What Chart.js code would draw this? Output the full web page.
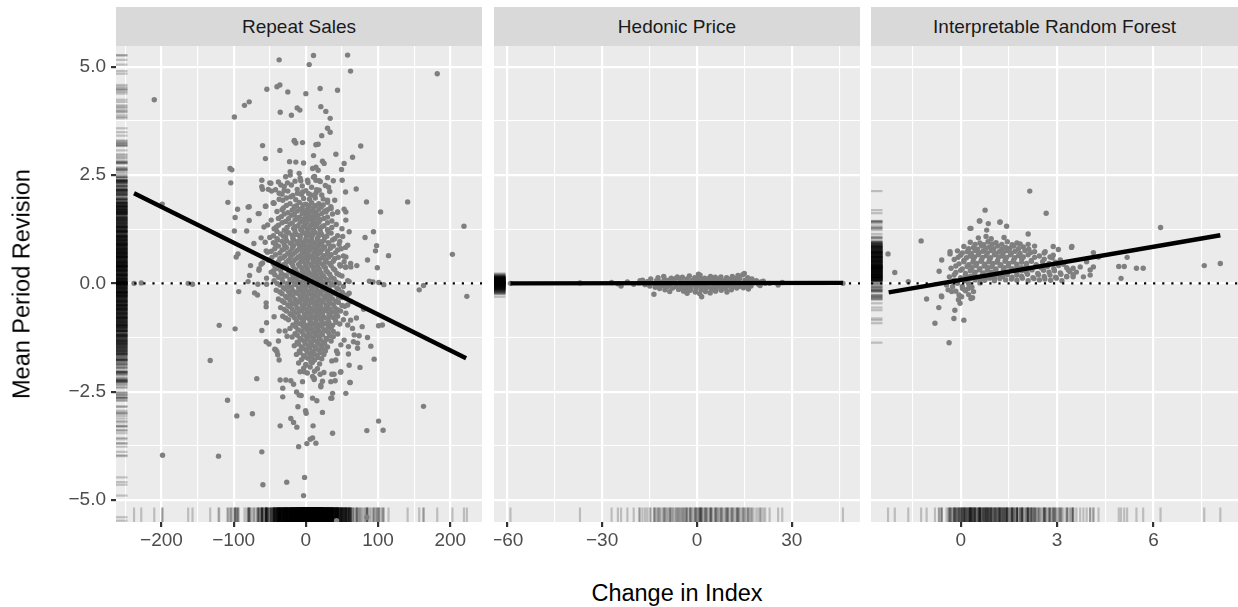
<!DOCTYPE html>
<html lang="en">
<head>
<meta charset="UTF-8">
<title>Mean Period Revision vs Change in Index</title>
<script src="https://cdn.jsdelivr.net/npm/chart.js"></script>
<style>
  body { margin: 0; background: #fff; font-family: "Liberation Sans", Arial, sans-serif; }
  #wrap { position: relative; width: 1238px; height: 607px; overflow: hidden; }
  .strip { position: absolute; top: 7px; height: 39px; line-height: 39px; background: #d9d9d9;
           color: #1a1a1a; font-size: 19px; text-align: center; }
  canvas { position: absolute; top: 46px; }
  .ytitle { position: absolute; left: 22px; top: 284px; transform: translate(-50%, -50%) rotate(-90deg);
            font-size: 23.5px; white-space: nowrap; color: #000; }
  .xtitle { position: absolute; left: 677px; top: 593px; transform: translate(-50%, -50%);
            font-size: 23.5px; white-space: nowrap; color: #000; }
</style>
</head>
<body>
<div id="wrap">
  <div class="strip" style="left:116px;width:366px">Repeat Sales</div>
  <div class="strip" style="left:494px;width:366px">Hedonic Price</div>
  <div class="strip" style="left:871px;width:367px">Interpretable Random Forest</div>
  <canvas id="p1" width="482" height="514" style="left:0px"></canvas>
  <canvas id="p2" width="366" height="514" style="left:494px"></canvas>
  <canvas id="p3" width="367" height="514" style="left:871px"></canvas>
  <div class="ytitle">Mean Period Revision</div>
  <div class="xtitle">Change in Index</div>
</div>

<script>
// ---- data: [change in index, mean period revision] ----
const repeatSales = [
  [-238,0.0],[-228,0.01],[-210,4.24],[-199,1.83],[-163,0.0],[-157,-0.02],[-99,3.84],[-85,4.11],[-78.5,4.19],
  [-54,4.48],[-40,4.54],[-36,4.58],[-37,5.16],[-25,4.42],[-35.5,3.95],[-20,3.88],[-12,4.05],[-8.3,4.0],
  [0,4.38],[4.6,5.05],[10.6,5.26],[19.8,4.5],[20.8,4.08],[27.7,3.97],[33.7,3.81],[43.9,4.46],[57.8,5.27],
  [61.9,4.9],[182,4.84],[30,3.58],[33.7,3.49],[22,3.41],[13.9,3.2],[17,3.21],[-4.6,3.25],[-16,3.28],
  [-13.9,3.24],[-60,3.18],[-36,3.07],[-56,2.88],[-22.6,2.81],[-13.9,2.8],[-3.2,2.78],[10.6,2.95],[23,2.82],
  [25.3,2.77],[41.6,2.98],[64.7,2.91],[76,3.17],[53,2.77],[49.4,2.63],[50.3,2.38],[69.7,2.18],[84,1.88],
  [141,1.88],[103.5,1.65],[93.7,1.19],[82,1.06],[98,0.87],[96.5,0.75],[114.5,0.64],[85.4,0.54],[99,0.36],
  [219,1.32],[203,0.67],[88,0.05],[93,0.03],[101,0.02],[108,-0.03],[157,-0.15],[163,-0.05],[223,-0.3],
  [-104,2.32],[-102.5,2.62],[-105,2.65],[-108,1.87],[-94.6,1.71],[-98,1.52],[-80,1.76],[-99,1.21],[-82,1.21],
  [-78.5,1.45],[-66,1.61],[-61,2.38],[-61,2.23],[-50,2.32],[-52,2.17],[-47.5,2.13],[-45,1.85],[-56,1.78],
  [-72,0.92],[-94,0.68],[-96.5,0.61],[-76.6,0.41],[-62,0.44],[-64.7,0.34],[-55,0.75],[-56.4,0.95],[-78,0.18],
  [-80,0.04],[-66.5,-0.02],[-54.4,-0.02],[-54.4,0.12],[-44.7,0.29],[-65,0.3],[-60,0.47],[-53,0.72],[-58,1.3],
  [-62,1.05],[-53,1.35],[-55.4,1.78],[-64.7,1.61],[-78.5,1.77],[-60,2.17],[-48.5,2.31],[-34.6,2.27],[-30,2.15],
  [-25.4,2.32],[-44,1.85],[-32,1.92],[-37,2.08],[-20.8,2.0],[-11.5,2.08],[-4.6,2.11],[7,2.04],[13.9,2.08],
  [18.4,2.15],[30,1.92],[34.6,1.77],[27.7,1.65],[44,1.65],[55.4,1.65],[55.4,1.46],[53,1.71],[9.3,2.65],
  [13.9,2.68],[17,2.61],[10.6,2.45],[2.3,2.38],[-7,2.37],[-21.7,2.58],[-21.7,2.5],[-9.3,2.54],[13.9,2.38],
  [18.4,2.37],[31.4,2.22],[55,2.11],[-16,3.3],
  [-93,-0.19],[-71,-0.22],[-67,-0.27],[-55,-0.45],[-55,-0.54],[-54.4,-0.91],[-44,-0.77],[-120,-0.97],
  [-98,-1.05],[-61,-1.09],[-55,-1.35],[-51,-1.4],[-38,-1.33],[-37,-1.1],[-28.7,-1.1],[-26,-1.22],[-43,-1.52],
  [-40,-1.58],[-37,-1.77],[-132.5,-1.78],[-68,-2.2],[-35.6,-2.23],[-27.7,-2.23],[-20.8,-2.25],[-32,-2.42],
  [-32,-2.62],[-108.5,-2.7],[-95.6,-3.06],[-74,-3.01],[-35.6,-3.29],[-20.8,-3.12],[-17,-3.21],[-12.5,-3.32],
  [-11,-2.85],[-12.9,-2.51],[-9.3,-2.58],[-6.5,-2.59],[0.4,-3.0],[-0.4,-2.94],[10,-3.29],[9.3,-2.65],
  [15.2,-2.71],[23,-2.98],[37,-3.46],[1.4,-3.7],[6,-3.6],[9.3,-3.57],[13.9,-3.69],[-10,-3.77],[-61,-3.89],
  [-121,-3.99],[-198.5,-3.97],[-59.5,-4.65],[-26.5,-4.59],[-1.8,-4.48],[-3.2,-4.9],[84.5,-3.4],[100.7,-3.18],
  [107,-3.39],[163,-2.84],[94.6,-1.75],[75,-1.94],[90,-1.45],[85.4,-1.25],[71.6,-1.5],[67,-1.19],[73.8,-1.21],
  [100.7,-0.98],[106,-0.96],[61,-2.29],[55.4,-2.54],[36,-2.65],[37,-2.54],[40.6,-2.25],[36,-2.1],[48,-2.05],
  [36,-1.79],[59,-1.63],[59,-1.46],[42.5,-1.56],[23,-2.26],[20.8,-2.39],[19.8,-2.1],[11.5,-2.22],[9.3,-2.15],
  [-4.6,-2.27],[-17,-2.33],[84.5,-5.4],[42.5,-5.48],[-2.3,-2.04],[0,-1.89],[7,-1.81],[11.5,-2.19],[20.8,-2.35],
  [34.6,-2.27],[39,-2.1],[48.5,-2.04],[61.4,-2.29],[34.6,-2.65],[60,-1.89],[41.5,-1.77],[44,-1.62],[48.5,-1.42],
  [53,-1.31],[58,-0.96],[64.6,-1.04],[58,-0.5],[62.6,-0.42],[55.4,-0.69],[51,-0.23],[60,-0.23],[55.4,0.38],
  [62.3,0.38],[70.6,0.41],[55.4,0.61],[58,0.88],[60,1.19],[51,1.08],[71.6,-1.38],[60,0.04],[-41.5,-1.54],
  [-39,-1.65],[62,-0.85],[70,-0.8],[78,-1.0],[66,-1.35],[80,-0.6],
  // dense core
  [-28,2.46],[-8,2.43],[12,2.47],[30,2.44],[-38,2.34],[-15,2.36],[3,2.33],[20,2.35],[38,2.37],
  [-30,2.24],[-20,2.27],[-5,2.25],[8,2.22],[27,2.26],[-42,2.16],[-25,2.13],[-12,2.17],[0,2.14],[15,2.16],[33,2.12],
  [-33,2.06],[-18,2.03],[-6,2.05],[4,2.07],[12,2.02],[22,2.04],
  [-37,1.94],[-27,1.97],[-14,1.93],[-3,1.96],[5,1.94],[13,1.97],[24,1.95],[40,1.92],
  [-45,1.86],[-22,1.84],[-9,1.87],[0,1.83],[8,1.86],[18,1.84],[30,1.87],
  [-31,1.74],[-16,1.77],[-5,1.73],[3,1.76],[10,1.74],[21,1.77],[35,1.73],
  [-40,1.66],[-25,1.63],[-12,1.67],[-2,1.64],[6,1.66],[14,1.63],[26,1.67],[44,1.64],
  [-34,1.54],[-20,1.57],[-9,1.53],[1,1.56],[9,1.54],[17,1.57],[30,1.53],
  [-48,1.46],[-28,1.43],[-15,1.47],[-5,1.44],[3,1.46],[11,1.43],[20,1.47],[36,1.44],
  [-38,1.34],[-22,1.37],[-11,1.33],[-1,1.36],[7,1.34],[15,1.37],[25,1.33],[42,1.36],
  [-44,1.26],[-30,1.23],[-17,1.27],[-7,1.24],[2,1.26],[10,1.23],[19,1.27],[30,1.24],[50,1.26],
  [-35,1.14],[-24,1.17],[-13,1.13],[-3,1.16],[5,1.14],[13,1.17],[22,1.13],[35,1.16],
  [-50,1.06],[-40,1.03],[-28,1.07],[-18,1.04],[-8,1.06],[0,1.03],[8,1.07],[16,1.04],[26,1.06],[40,1.03],
  [-45,0.94],[-33,0.97],[-22,0.93],[-12,0.96],[-4,0.94],[4,0.97],[12,0.93],[20,0.96],[31,0.94],[47,0.97],
  [-38,0.86],[-27,0.83],[-17,0.87],[-7,0.84],[1,0.86],[9,0.83],[17,0.87],[26,0.84],[38,0.86],[55,0.83],
  [-48,0.74],[-33,0.77],[-22,0.73],[-12,0.76],[-3,0.74],[5,0.77],[13,0.73],[21,0.76],[30,0.74],[44,0.77],
  [-42,0.66],[-29,0.63],[-18,0.67],[-8,0.64],[0,0.66],[8,0.63],[16,0.67],[25,0.64],[35,0.66],[52,0.63],
  [-52,0.54],[-36,0.57],[-24,0.53],[-14,0.56],[-5,0.54],[3,0.57],[11,0.53],[19,0.56],[28,0.54],[40,0.57],
  [-45,0.46],[-31,0.43],[-20,0.47],[-10,0.44],[-1,0.46],[7,0.43],[15,0.47],[23,0.44],[33,0.46],[47,0.43],[62,0.46],
  [-40,0.34],[-27,0.37],[-16,0.33],[-6,0.36],[2,0.34],[10,0.37],[18,0.33],[27,0.36],[38,0.34],[55,0.37],
  [-48,0.26],[-34,0.23],[-22,0.27],[-12,0.24],[-3,0.26],[5,0.23],[13,0.27],[21,0.24],[30,0.26],[43,0.23],
  [-38,0.14],[-27,0.17],[-17,0.13],[-7,0.16],[1,0.14],[9,0.17],[17,0.13],[25,0.16],[35,0.14],[50,0.17],
  [-44,0.06],[-32,0.03],[-20,0.07],[-10,0.04],[-2,0.06],[6,0.03],[14,0.07],[22,0.04],[31,0.06],[42,0.03],[58,0.06],
  [-36,-0.04],[-25,-0.07],[-14,-0.03],[-5,-0.06],[3,-0.04],[11,-0.07],[19,-0.03],[28,-0.06],[38,-0.04],[52,-0.07],
  [-41,-0.16],[-29,-0.13],[-18,-0.17],[-8,-0.14],[0,-0.16],[8,-0.13],[16,-0.17],[24,-0.14],[33,-0.16],[45,-0.13],
  [-33,-0.24],[-22,-0.27],[-12,-0.23],[-3,-0.26],[5,-0.24],[13,-0.27],[21,-0.23],[30,-0.26],[41,-0.24],[57,-0.27],
  [-38,-0.36],[-26,-0.33],[-15,-0.37],[-6,-0.34],[2,-0.36],[10,-0.33],[18,-0.37],[27,-0.34],[37,-0.36],[49,-0.33],
  [-30,-0.44],[-19,-0.47],[-9,-0.43],[0,-0.46],[8,-0.44],[16,-0.47],[24,-0.43],[33,-0.46],[45,-0.44],
  [-35,-0.56],[-23,-0.53],[-12,-0.57],[-3,-0.54],[5,-0.56],[13,-0.53],[21,-0.57],[30,-0.54],[40,-0.56],[54,-0.53],
  [-27,-0.64],[-16,-0.67],[-6,-0.63],[3,-0.66],[11,-0.64],[19,-0.67],[27,-0.63],[37,-0.66],[48,-0.64],
  [-32,-0.76],[-20,-0.73],[-9,-0.77],[0,-0.74],[8,-0.76],[16,-0.73],[24,-0.77],[33,-0.74],[44,-0.76],
  [-24,-0.84],[-13,-0.87],[-3,-0.83],[6,-0.86],[14,-0.84],[22,-0.87],[31,-0.83],[41,-0.86],[52,-0.84],
  [-18,-0.96],[-8,-0.93],[2,-0.97],[10,-0.94],[18,-0.96],[27,-0.93],[37,-0.97],[47,-0.94],
  [-22,-1.04],[-11,-1.07],[-1,-1.03],[8,-1.06],[16,-1.04],[25,-1.07],[35,-1.03],
  [-15,-1.16],[-5,-1.13],[4,-1.17],[12,-1.14],[21,-1.16],[31,-1.13],[44,-1.17],
  [-19,-1.24],[-8,-1.27],[1,-1.23],[10,-1.26],[18,-1.24],[28,-1.27],[38,-1.23],
  [-12,-1.36],[-2,-1.33],[7,-1.37],[15,-1.34],[24,-1.36],[35,-1.33],
  [-16,-1.44],[-6,-1.47],[3,-1.43],[12,-1.46],[21,-1.44],[30,-1.47],
  [-9,-1.56],[0,-1.53],[9,-1.57],[18,-1.54],[27,-1.56],[-13,-1.64],[-3,-1.67],[6,-1.63],[15,-1.66],[25,-1.64],
  [-6,-1.76],[3,-1.73],[12,-1.77],[22,-1.74],[-10,-1.84],[0,-1.87],[9,-1.83],[19,-1.86],
  [-3,-1.96],[6,-1.93],[16,-1.97],[-8,-2.04],[2,-2.07],[12,-2.03],[25,-2.06],
  // core, in-between rows
  [-27,1.8],[-13,1.79],[-4,1.81],[4,1.8],[13,1.79],[24,1.81],
  [-33,1.7],[-19,1.69],[-8,1.71],[2,1.7],[10,1.69],[18,1.71],[30,1.7],
  [-30,1.6],[-16,1.59],[-5,1.61],[4,1.6],[12,1.59],[22,1.61],[37,1.6],
  [-38,1.5],[-24,1.49],[-12,1.51],[-2,1.5],[6,1.49],[14,1.51],[25,1.5],
  [-33,1.4],[-19,1.39],[-8,1.41],[1,1.4],[9,1.39],[18,1.41],[30,1.4],
  [-41,1.3],[-26,1.29],[-14,1.31],[-4,1.3],[5,1.29],[13,1.31],[22,1.3],[36,1.29],
  [-40,1.2],[-27,1.19],[-15,1.21],[-5,1.2],[3,1.19],[11,1.21],[20,1.2],[31,1.19],
  [-45,1.1],[-31,1.09],[-19,1.11],[-8,1.1],[1,1.09],[9,1.11],[18,1.1],[29,1.09],[44,1.1],
  [-39,1.0],[-27,0.99],[-17,1.01],[-8,1.0],[0,0.99],[8,1.01],[16,1.0],[25,0.99],[37,1.0],
  [-42,0.9],[-30,0.89],[-19,0.91],[-10,0.9],[-2,0.89],[6,0.91],[14,0.9],[22,0.89],[32,0.91],[46,0.9],
  [-43,0.8],[-30,0.79],[-19,0.81],[-9,0.8],[-1,0.79],[7,0.81],[15,0.8],[23,0.79],[34,0.81],[49,0.8],
  [-36,0.7],[-25,0.69],[-15,0.71],[-5,0.7],[3,0.69],[11,0.71],[20,0.7],[30,0.69],[41,0.71],
  [-47,0.6],[-32,0.59],[-21,0.61],[-11,0.6],[-2,0.59],[6,0.61],[14,0.6],[23,0.59],[32,0.61],[45,0.6],
  [-38,0.5],[-27,0.49],[-17,0.51],[-7,0.5],[2,0.49],[10,0.51],[18,0.5],[27,0.49],[38,0.51],[53,0.5],
  [-43,0.4],[-29,0.39],[-18,0.41],[-9,0.4],[0,0.39],[8,0.41],[16,0.4],[25,0.39],[35,0.41],[48,0.4],
  [-35,0.3],[-24,0.29],[-14,0.31],[-5,0.3],[3,0.29],[11,0.31],[19,0.3],[28,0.29],[40,0.31],
  [-43,0.2],[-30,0.19],[-19,0.21],[-9,0.2],[-1,0.19],[7,0.21],[15,0.2],[23,0.19],[33,0.21],[46,0.2],
  [-33,0.1],[-22,0.09],[-13,0.11],[-4,0.1],[4,0.09],[12,0.11],[20,0.1],[28,0.09],[39,0.11],
  [-40,0.0],[-26,-0.01],[-16,0.01],[-7,0.0],[1,-0.01],[9,0.01],[17,0.0],[25,-0.01],[35,0.01],[46,0.0],
  [-31,-0.1],[-20,-0.09],[-10,-0.11],[-1,-0.1],[7,-0.09],[15,-0.11],[23,-0.1],[32,-0.09],[43,-0.11],
  [-36,-0.2],[-24,-0.19],[-14,-0.21],[-5,-0.2],[3,-0.19],[11,-0.21],[19,-0.2],[28,-0.19],[38,-0.21],[50,-0.2],
  [-28,-0.3],[-18,-0.29],[-8,-0.31],[1,-0.3],[9,-0.29],[17,-0.31],[25,-0.3],[34,-0.29],[45,-0.31],
  [-33,-0.4],[-22,-0.39],[-11,-0.41],[-2,-0.4],[6,-0.39],[14,-0.41],[22,-0.4],[31,-0.39],[42,-0.41],
  [-25,-0.5],[-14,-0.49],[-5,-0.51],[4,-0.5],[12,-0.49],[20,-0.51],[28,-0.5],[38,-0.49],[50,-0.51],
  [-30,-0.6],[-19,-0.59],[-9,-0.61],[0,-0.6],[8,-0.59],[16,-0.61],[24,-0.6],[33,-0.59],[44,-0.61],
  [-22,-0.7],[-11,-0.69],[-2,-0.71],[7,-0.7],[15,-0.69],[23,-0.71],[32,-0.7],[42,-0.69],
  [-28,-0.8],[-16,-0.79],[-6,-0.81],[3,-0.8],[11,-0.79],[19,-0.81],[28,-0.8],[38,-0.79],
  [-13,-0.9],[-3,-0.89],[6,-0.91],[14,-0.9],[22,-0.89],[32,-0.91],[42,-0.9],
  [-14,-1.0],[-4,-0.99],[6,-1.01],[14,-1.0],[22,-0.99],[31,-1.01],
  [-7,-1.1],[2,-1.09],[10,-1.11],[18,-1.1],[27,-1.09],[38,-1.11],
  [-12,-1.2],[-3,-1.19],[6,-1.21],[14,-1.2],[23,-1.19],[33,-1.21],
  [-6,-1.3],[3,-1.29],[11,-1.31],[20,-1.3],[29,-1.29],
  [-10,-1.4],[-1,-1.39],[8,-1.41],[17,-1.4],[26,-1.39],
  [-4,-1.5],[5,-1.49],[14,-1.51],[23,-1.5],[-8,-1.6],[2,-1.59],[11,-1.61],[20,-1.6],
  [-1,-1.7],[8,-1.69],[17,-1.71]
];

const hedonicPrice = [
  [-59,0.0],[-37,0.01],[-27,0.02],[-25,-0.01],[-24,-0.06],[-22,0.03],[-20,-0.02],[-18,0.06],[46.2,0.0],
  [27,0.02],[25.7,-0.04],[23,0.0],[21,0.05],[20,-0.05],[15,0.23],[1,0.19],[-13.6,-0.25],[1.5,-0.31],
  [0.5,0.21],[13,0.18],[14.5,0.2],
  [-10.5,0.16],[-6.2,0.15],[-2.4,0.17],[0.8,0.15],[4.3,0.16],[7.6,0.15],[11.2,0.16],
  [-12.3,0.13],[-8.1,0.12],[-4.6,0.14],[-0.7,0.13],[2.4,0.12],[5.8,0.14],[9.4,0.13],[12.7,0.12],[16.1,0.13],
  [-14.6,0.1],[-10.2,0.09],[-6.8,0.11],[-3.1,0.1],[0.2,0.09],[3.5,0.11],[6.9,0.1],[10.1,0.09],[13.5,0.11],[17.4,0.1],
  [-17.2,0.07],[-12.8,0.06],[-8.7,0.08],[-5.3,0.07],[-1.6,0.06],[1.6,0.08],[4.8,0.07],[8.3,0.06],[11.6,0.08],[15.2,0.07],[18.8,0.06],
  [-15.7,0.04],[-11.4,0.03],[-7.4,0.05],[-3.8,0.04],[-0.4,0.03],[2.9,0.05],[6.2,0.04],[9.7,0.03],[12.9,0.05],[16.6,0.04],[20.3,0.03],
  [-18.3,0.01],[-13.5,0.0],[-9.6,0.01],[-5.9,0.0],[-2.2,0.01],[1.1,0.0],[4.1,0.01],[7.4,0.0],[10.8,0.01],[14.1,0.0],[17.9,0.01],[21.6,0.0],
  [-16.4,-0.03],[-12.1,-0.02],[-8.4,-0.04],[-4.5,-0.03],[-1.1,-0.02],[2.2,-0.04],[5.5,-0.03],[8.8,-0.02],[12.2,-0.04],[15.8,-0.03],[19.5,-0.02],
  [-14.9,-0.06],[-10.7,-0.05],[-6.6,-0.07],[-3.3,-0.06],[0.1,-0.05],[3.2,-0.07],[6.6,-0.06],[9.9,-0.05],[13.3,-0.07],[17.1,-0.06],
  [-13.2,-0.09],[-9.3,-0.08],[-5.1,-0.1],[-1.9,-0.09],[1.4,-0.08],[4.6,-0.1],[7.9,-0.09],[11.3,-0.08],[14.7,-0.1],
  [-11.8,-0.12],[-7.7,-0.11],[-3.6,-0.13],[-0.3,-0.12],[2.8,-0.11],[6.1,-0.13],[9.2,-0.12],[12.6,-0.11],[16.3,-0.13],
  [-10.1,-0.15],[-5.8,-0.14],[-2.1,-0.16],[1.3,-0.15],[4.5,-0.14],[7.7,-0.16],[10.9,-0.15],
  [-8.6,-0.19],[-4.2,-0.18],[-0.5,-0.2],[2.7,-0.19],[5.9,-0.18],[9.5,-0.2],
  [-3.1,-0.23],[0.9,-0.24],[4.2,-0.22]
];

const randomForest = [
  [-2.26,0.68],[-2.05,0.25],[-1.63,0.04],[-1.23,0.98],[-1.06,-0.36],[-0.8,-0.92],[-0.68,-0.56],[-0.59,-0.31],
  [-0.59,0.54],[-0.67,0.28],[-0.33,0.68],[-0.33,0.73],[-0.21,-0.81],[-0.18,-0.62],[0.1,-0.85],[-0.07,-0.38],
  [0.03,-0.31],[-0.02,-0.46],[0.32,-0.35],[0.37,-0.33],[0.13,-0.15],[0.24,-0.12],[0.06,-0.12],[-0.39,-0.15],
  [-0.44,-0.04],[-0.28,-0.19],[0.29,1.27],[0.6,1.44],[0.76,1.69],[0.86,1.38],[0.79,1.08],[0.81,1.23],
  [1.22,1.41],[1.43,1.32],[2.1,1.14],[2.66,1.62],[2.15,2.13],[3.46,0.85],[2.88,0.85],[3.04,0.78],[2.63,0.73],
  [2.88,0.65],[2.78,0.61],[4.13,0.71],[4.29,0.61],[3.92,0.5],[4.03,0.31],[4.13,0.38],[4.03,0.19],[3.82,0.15],
  [3.72,0.38],[3.5,0.35],[3.4,0.27],[3.5,0.15],[3.3,0.15],[6.22,1.29],[7.58,0.41],[8.08,0.46],[4.92,0.39],
  [5.09,0.39],[5.47,0.35],[5.68,0.35],[5.18,0.6],[4.99,0.115],[0.58,1.44],[0.32,1.27],[1.23,1.42],[3.45,0.83],
  [-0.36,-1.37],[-0.6,-0.29],
  [0.55,1.05],[0.95,1.03],[1.35,1.06],
  [0.3,0.95],[0.6,0.93],[0.85,0.96],[1.1,0.94],[1.45,0.96],[1.75,0.93],
  [0.1,0.85],[0.4,0.83],[0.65,0.86],[0.9,0.84],[1.15,0.86],[1.4,0.83],[1.65,0.86],[1.95,0.84],[2.3,0.86],
  [-0.1,0.75],[0.2,0.73],[0.45,0.76],[0.7,0.74],[0.95,0.76],[1.2,0.73],[1.45,0.76],[1.7,0.74],[2.0,0.76],[2.3,0.73],
  [0.0,0.65],[0.3,0.63],[0.55,0.66],[0.8,0.64],[1.05,0.66],[1.3,0.63],[1.55,0.66],[1.8,0.64],[2.1,0.66],[2.45,0.63],
  [-0.2,0.55],[0.1,0.53],[0.4,0.56],[0.65,0.54],[0.9,0.56],[1.15,0.53],[1.4,0.56],[1.65,0.54],[1.9,0.56],[2.2,0.53],[2.6,0.56],[3.1,0.54],
  [-0.05,0.45],[0.25,0.43],[0.5,0.46],[0.75,0.44],[1.0,0.46],[1.25,0.43],[1.5,0.46],[1.75,0.44],[2.05,0.46],[2.35,0.43],[2.75,0.46],[3.2,0.44],
  [-0.3,0.35],[0.05,0.33],[0.35,0.36],[0.6,0.34],[0.85,0.36],[1.1,0.33],[1.35,0.36],[1.6,0.34],[1.9,0.36],[2.2,0.33],[2.5,0.36],[2.9,0.34],[3.3,0.36],
  [-0.15,0.25],[0.15,0.23],[0.45,0.26],[0.7,0.24],[0.95,0.26],[1.2,0.23],[1.45,0.26],[1.75,0.24],[2.05,0.26],[2.4,0.23],[2.75,0.26],[3.1,0.24],[3.6,0.26],
  [-0.35,0.15],[0.0,0.13],[0.3,0.16],[0.55,0.14],[0.8,0.16],[1.05,0.13],[1.3,0.16],[1.6,0.14],[1.9,0.16],[2.25,0.13],[2.6,0.16],[2.95,0.14],[3.3,0.16],
  [-0.2,0.07],[0.15,0.06],[0.45,0.08],[0.75,0.07],[1.05,0.06],[1.4,0.08],[1.75,0.07],[2.1,0.06],[2.45,0.08],[2.8,0.07],[3.15,0.06],
  [-0.1,0.0],[0.25,-0.01],[0.6,0.01],[-0.25,-0.08],[0.05,-0.07],[0.35,-0.09],
  [-0.15,-0.18],[0.15,-0.17],[0.4,-0.19],[-0.05,-0.27],[0.25,-0.26],
  // in-between rows
  [0.45,0.9],[0.72,0.89],[0.98,0.91],[1.28,0.9],[1.6,0.89],[1.85,0.91],[2.1,0.9],
  [0.25,0.8],[0.52,0.79],[0.78,0.81],[1.03,0.8],[1.28,0.79],[1.53,0.81],[1.8,0.8],[2.12,0.79],
  [0.05,0.7],[0.33,0.69],[0.58,0.71],[0.83,0.7],[1.08,0.69],[1.33,0.71],[1.58,0.7],[1.85,0.69],[2.18,0.71],[2.6,0.7],
  [-0.08,0.6],[0.18,0.59],[0.43,0.61],[0.68,0.6],[0.93,0.59],[1.18,0.61],[1.43,0.6],[1.68,0.59],[1.95,0.61],[2.3,0.6],[2.85,0.59],
  [0.1,0.5],[0.38,0.49],[0.63,0.51],[0.88,0.5],[1.13,0.49],[1.38,0.51],[1.63,0.5],[1.9,0.49],[2.2,0.51],[2.55,0.5],[2.95,0.49],
  [-0.15,0.4],[0.2,0.39],[0.48,0.41],[0.73,0.4],[0.98,0.39],[1.23,0.41],[1.48,0.4],[1.75,0.39],[2.05,0.41],[2.35,0.4],[2.7,0.39],[3.05,0.41],
  [0.0,0.3],[0.3,0.29],[0.58,0.31],[0.83,0.3],[1.08,0.29],[1.33,0.31],[1.6,0.3],[1.9,0.29],[2.22,0.31],[2.58,0.3],[2.92,0.29],[3.35,0.31],
  [-0.2,0.2],[0.15,0.19],[0.43,0.21],[0.68,0.2],[0.93,0.19],[1.18,0.21],[1.45,0.2],[1.75,0.19],[2.08,0.21],[2.42,0.2],[2.78,0.19],[3.12,0.21],[3.5,0.2],
  [0.3,0.11],[0.6,0.1],[0.9,0.12],[1.22,0.11],[1.58,0.1],[1.92,0.12],[2.28,0.11],[2.62,0.1],[2.98,0.12]
];

// fitted lines (end points)
const repeatFit = [[-238, 2.08], [222, -1.73]];
const hedonicFit = [[-59, 0.0], [46.2, 0.01]];
const forestFit = [[-2.24, -0.21], [8.08, 1.11]];

// ticks
const yTicks = [-5, -2.5, 0, 2.5, 5];
const yTickLabels = ['\u22125.0', '\u22122.5', '0.0', '2.5', '5.0'];
const yMinor = [-3.75, -1.25, 1.25, 3.75];
const rsTicks = [-200, -100, 0, 100, 200];
const rsTickLabels = ['\u2212200', '\u2212100', '0', '100', '200'];
const rsMinor = [-250, -150, -50, 50, 150];
const hpTicks = [-60, -30, 0, 30];
const hpTickLabels = ['\u221260', '\u221230', '0', '30'];
const hpMinor = [-45, -15, 15, 45];
const rfTicks = [0, 3, 6];
const rfTickLabels = ['0', '3', '6'];
const rfMinor = [-1.5, 1.5, 4.5, 7.5];

const Y_MIN = -5.51, Y_MAX = 5.48;

const panelBg = {
  id: 'panelBg',
  beforeDraw(chart) {
    const { ctx, chartArea: a } = chart;
    ctx.save();
    ctx.fillStyle = '#ebebeb';
    ctx.fillRect(a.left, a.top, a.right - a.left, a.bottom - a.top);
    ctx.restore();
  }
};

function tickList(major, minor) {
  return major.map(v => ({ value: v }))
    .concat(minor.map(v => ({ value: v, minor: true })))
    .sort((a, b) => a.value - b.value);
}

const tickFont = { family: 'Liberation Sans', size: 19 };

function gridOpts(drawTicks) {
  return {
    color: '#ffffff',
    lineWidth: c => (c.tick && c.tick.minor) ? 1.1 : 2.2,
    tickColor: c => (c.tick && c.tick.minor) ? 'rgba(0,0,0,0)' : '#333333',
    tickWidth: 2.2,
    tickLength: 5,
    drawTicks: drawTicks
  };
}

function makePanel(id, pts, fit, xMin, xMax, xt, xl, xm, showY) {
  const rug = 'rgba(0,0,0,0.2)';
  new Chart(document.getElementById(id), {
    type: 'scatter',
    data: {
      datasets: [
        { // dotted zero line
          data: [{ x: xMin, y: 0 }, { x: xMax, y: 0 }],
          showLine: true, borderColor: '#000', borderWidth: 2.2, borderDash: [2.2, 6.9],
          pointRadius: 0, order: 0
        },
        { // linear fit
          data: fit.map(p => ({ x: p[0], y: p[1] })),
          showLine: true, borderColor: '#000', borderWidth: 4.4, pointRadius: 0, order: 1
        },
        {
          data: pts.map(p => ({ x: p[0], y: p[1] })),
          pointRadius: 2.7, pointBackgroundColor: '#7f7f7f', pointBorderWidth: 0, order: 2
        },
        { // x rug
          data: pts.map(p => ({ x: p[0], y: Y_MIN })),
          pointStyle: 'line', pointRotation: 90, pointRadius: 14.5,
          pointBorderColor: rug, pointBorderWidth: 2.2, order: 3, clip: 0
        },
        { // y rug
          data: pts.map(p => ({ x: xMin, y: p[1] })),
          pointStyle: 'line', pointRotation: 0, pointRadius: 11.5,
          pointBorderColor: rug, pointBorderWidth: 2.2, order: 3, clip: 0
        }
      ]
    },
    options: {
      responsive: false,
      animation: false,
      events: [],
      layout: { padding: 0, autoPadding: false },
      plugins: { legend: { display: false }, tooltip: { enabled: false } },
      scales: {
        x: {
          type: 'linear', min: xMin, max: xMax,
          border: { display: false },
          grid: gridOpts(true),
          afterBuildTicks: s => { s.ticks = tickList(xt, xm); },
          afterFit: s => { s.height = 38; s.paddingLeft = 0; s.paddingRight = 0; },
          ticks: {
            autoSkip: false, maxRotation: 0, padding: 2, color: '#4d4d4d', font: tickFont,
            callback: (v, i, t) => t[i].minor ? '' : xl[xt.indexOf(v)]
          }
        },
        y: {
          type: 'linear', min: Y_MIN, max: Y_MAX,
          border: { display: false },
          grid: gridOpts(showY),
          afterBuildTicks: s => { s.ticks = tickList(yTicks, yMinor); },
          afterFit: s => { s.width = showY ? 116 : 0; s.paddingTop = 0; s.paddingBottom = 0; },
          ticks: {
            display: showY, autoSkip: false, padding: 5, color: '#4d4d4d', font: tickFont,
            callback: (v, i, t) => t[i].minor ? '' : yTickLabels[yTicks.indexOf(v)]
          }
        }
      }
    },
    plugins: [panelBg]
  });
}

makePanel('p1', repeatSales, repeatFit, -263, 244, rsTicks, rsTickLabels, rsMinor, true);
makePanel('p2', hedonicPrice, hedonicFit, -64.2, 51.6, hpTicks, hpTickLabels, hpMinor, false);
makePanel('p3', randomForest, forestFit, -2.79, 8.63, rfTicks, rfTickLabels, rfMinor, false);
</script>
</body>
</html>
